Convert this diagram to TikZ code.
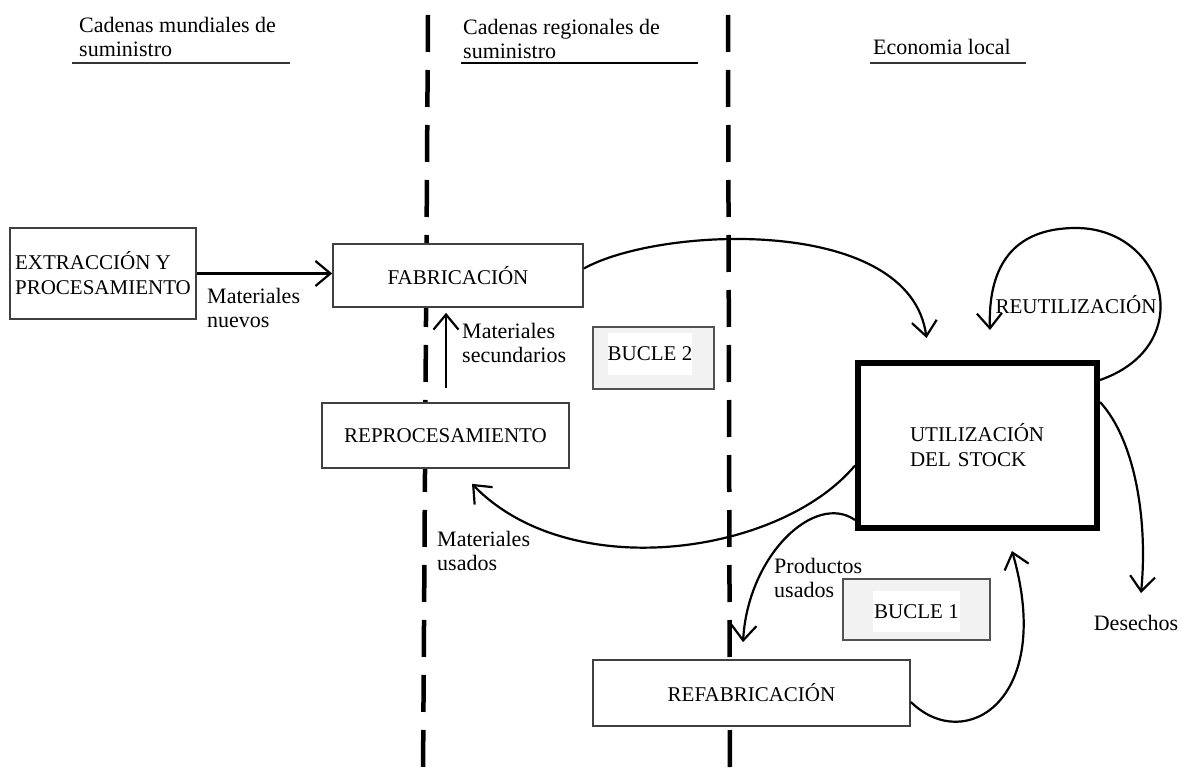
\documentclass[tikz,border=0pt]{standalone}
\usepackage{fontspec}
\setmainfont{Liberation Serif}
\usetikzlibrary{arrows.meta}
\newcommand\bxfont{\fontsize{21}{25}\selectfont}
\newcommand\lbfont{\fontsize{22}{24}\selectfont}
\begin{document}
\begin{tikzpicture}[x=1pt,y=-1pt,
  box/.style={draw=black!75, line width=1.7pt, fill=white, inner sep=0pt, font=\bxfont},
  loopbox/.style={draw=black!68, line width=2.2pt, fill=black!5, inner sep=0pt},
  looptag/.style={fill=white, inner sep=0pt, font=\bxfont},
  lbl/.style={align=left, inner sep=0pt, font=\lbfont},
  arr/.style={line width=2.2pt, -{Straight Barb[length=15pt,width=25pt,line width=2.2pt]}},
  zone/.style={line width=4.5pt, dash pattern=on 37pt off 18pt},
  rule/.style={line width=1.8pt, draw=black!80}
]
\useasboundingbox (0,0) rectangle (1181,778);

% zone dividers
\coordinate (z1top) at (428,15);  \coordinate (z1bot) at (423,778);
\coordinate (z2top) at (728,15);  \coordinate (z2bot) at (730,778);
\draw[zone] (z1top) -- (z1bot);
\draw[zone] (z2top) -- (z2bot);

% zone headings
\node[lbl, anchor=west] (hglobal) at (79,37) {Cadenas mundiales de\\suministro};
\node[lbl, anchor=west] (hregion) at (463,39) {Cadenas regionales de\\suministro};
\node[lbl, anchor=west] (hlocal)  at (873,47) {Economia local};
\draw[rule] (72,63) -- (290,63);
\draw[rule, line width=1.4pt, draw=black] (461,63) -- (698,63);
\draw[rule] (870,63) -- (1026,63);

% process boxes
\node[box, minimum width=186pt, minimum height=91pt, align=left] (extr) at (103,273.5)
  {EXTRACCIÓN Y\\PROCESAMIENTO};
\node[box, minimum width=250pt, minimum height=63pt] (fab) at (458,275.5) {FABRICACIÓN};
\node[box, minimum width=247pt, minimum height=65pt] (repro) at (445.5,435.5) {REPROCESAMIENTO};
\node[box, minimum width=317pt, minimum height=66pt] (refab) at (751.5,693) {REFABRICACIÓN};
\node[box, draw=black, line width=6pt, inner xsep=52pt, text width=135pt, align=left,
  minimum height=165pt] (util) at (977.5,445.5) {UTILIZACIÓN\\DEL STOCK};

% loop tags
\node[loopbox, minimum width=121pt, minimum height=62pt] (loop2) at (653.5,358) {};
\node[looptag, minimum width=84pt, minimum height=42pt] (tag2) at (650,354) {BUCLE 2};
\node[loopbox, minimum width=147pt, minimum height=61pt] (loop1) at (916.5,609.5) {};
\node[looptag, minimum width=87pt, minimum height=41pt] (tag1) at (916.5,611.5) {BUCLE 1};

% flow labels
\node[lbl, anchor=west] (lnew)  at (207,308) {Materiales\\nuevos};
\node[lbl, anchor=west] (lsec)  at (462,343) {Materiales\\secundarios};
\node[lbl, anchor=west] (lused) at (437,551) {Materiales\\usados};
\node[lbl, anchor=west] (lprod) at (774,578) {Productos\\usados};
\node[inner sep=0pt, font=\bxfont] (lreuse) at (1076,305) {REUTILIZACIÓN};
\node[inner sep=0pt, font=\lbfont] (lwaste) at (1136,623) {Desechos};

% free ends of the loops
\coordinate (reuseEnd) at (990,330);
\coordinate (wasteEnd) at (1141,593);

% flows
\draw[arr] (extr.east) -- (extr.east -| fab.west);
\draw[arr, shorten <=14pt, shorten >=5pt] (repro.north -| 446,0) -- (fab.south -| 446,0);
\draw[arr] ([yshift=7pt]fab.east) .. controls (660,226) and (910,215) .. ([xshift=-51pt,yshift=22pt]util.north);
\draw[arr] ([yshift=-20pt]util.north east) .. controls (1200,345) and (1165,228) .. (1076,228)
  .. controls (1010,228) and (988,270) .. (reuseEnd);
\draw[arr] ([yshift=-20pt]util.west) .. controls (780,555) and (570,585) .. ([xshift=26.5pt,yshift=-15pt]repro.south);
\draw[arr] ([yshift=11pt]util.south west) .. controls (815,492) and (748,555) .. ([xshift=-8.5pt,yshift=17pt]refab.north);
\draw[arr] ([yshift=-9pt]refab.east) .. controls (965,755) and (1055,700) .. ([xshift=34.5pt,yshift=-20pt]util.south);
\draw[arr] ([yshift=-42pt]util.north east) .. controls (1135,440) and (1148,520) .. (wasteEnd);
\end{tikzpicture}
\end{document}
